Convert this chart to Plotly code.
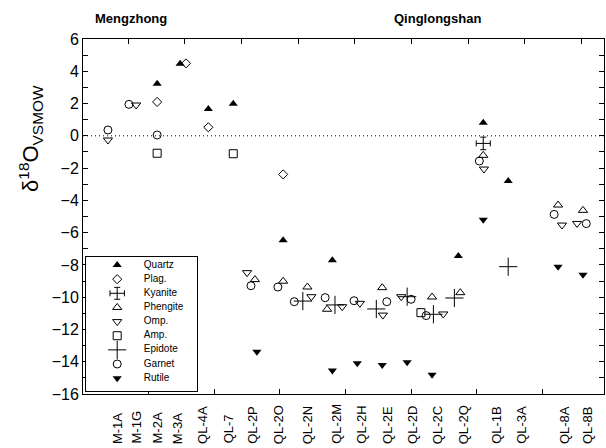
import plotly.graph_objects as go

# ---------------- data ----------------
samples = ["M-1A", "M-1G", "M-2A", "M-3A", "QL-4A", "QL-7", "QL-2P", "QL-2O", "QL-2N",
           "QL-2M", "QL-2H", "QL-2E", "QL-2D", "QL-2C", "QL-2Q", "QL-1B", "QL-3A",
           "QL-8A", "QL-8B"]
sample_x = [0.53, 0.81, 1.13, 1.43, 1.83, 2.21, 2.59, 2.97, 3.42, 3.87, 4.25, 4.65,
            5.03, 5.40, 5.79, 6.31, 6.69, 7.35, 7.70]

quartz_x = [1.13, 1.48, 1.91, 2.29, 3.05, 3.80, 5.72, 6.10, 6.48]
quartz_y = [3.22, 4.47, 1.66, 1.99, -6.47, -7.71, -7.45, 0.81, -2.80]

plag_x = [1.13, 1.57, 1.91, 3.05]
plag_y = [2.10, 4.49, 0.53, -2.39]

kyanite_x = [6.10]
kyanite_y = [-0.47]
kyanite_err_y = [0.39]
kyanite_err_x = [0.107]

phengite_x = [2.62, 3.05, 3.42, 3.72, 4.56, 5.32, 5.75, 6.10, 7.24, 7.62]
phengite_y = [-8.91, -9.01, -9.37, -10.75, -9.41, -9.99, -9.72, -1.21, -4.29, -4.62]

omp_x = [0.38, 0.81, 2.50, 3.48, 3.95, 4.22, 4.57, 4.85, 5.49, 6.11, 7.30, 7.53]
omp_y = [-0.26, 1.91, -8.48, -9.97, -10.59, -10.38, -11.11, -9.97, -11.04, -2.06, -5.53, -5.43]

amp_x = [1.13, 2.29, 5.15]
amp_y = [-1.08, -1.11, -10.96]

epidote_x = [3.35, 3.84, 4.47, 4.94, 5.34, 5.66, 6.48]
epidote_y = [-10.24, -10.48, -10.73, -9.97, -11.06, -10.05, -8.11]

garnet_x = [0.38, 0.70, 1.13, 2.56, 2.97, 3.22, 3.69, 4.13, 4.63, 5.00, 5.23, 6.04, 7.18, 7.67]
garnet_y = [0.36, 1.95, 0.05, -9.29, -9.37, -10.28, -10.03, -10.22, -10.28, -10.13, -11.14,
            -1.56, -4.87, -5.44]

rutile_x = [2.65, 3.80, 4.18, 4.56, 4.94, 5.32, 6.10, 7.24, 7.62]
rutile_y = [-13.38, -14.54, -14.10, -14.20, -14.04, -14.80, -5.20, -8.11, -8.61]

minerals = ["Quartz", "Plag.", "Kyanite", "Phengite", "Omp.", "Amp.", "Epidote", "Garnet", "Rutile"]

y_ticks = [6, 4, 2, 0, -2, -4, -6, -8, -10, -12, -14, -16]
bottom_ticks = [1, 2, 3, 4, 5, 6, 7]
top_ticks = [0.686 + 0.864 * k for k in range(9)]

# ---------------- styles ----------------
FONT = "Liberation Sans, Arial, sans-serif"
BLK = "black"

styles = {
    "Quartz": dict(symbol="triangle-up", size=8, color=BLK, line=dict(width=0, color=BLK)),
    "Plag.": dict(symbol="diamond-open", size=7, color=BLK, line=dict(width=1, color=BLK)),
    "Kyanite": dict(symbol="line-ew", size=1, color=BLK, line=dict(width=1, color=BLK)),
    "Phengite": dict(symbol="triangle-up-open", size=8, color=BLK, line=dict(width=1, color=BLK)),
    "Omp.": dict(symbol="triangle-down-open", size=8, color=BLK, line=dict(width=1, color=BLK)),
    "Amp.": dict(symbol="square-open", size=8, color=BLK, line=dict(width=1, color=BLK)),
    "Epidote": dict(symbol="cross-thin-open", size=13, color=BLK, line=dict(width=1, color=BLK)),
    "Garnet": dict(symbol="circle-open", size=8, color=BLK, line=dict(width=1, color=BLK)),
    "Rutile": dict(symbol="triangle-down", size=8, color=BLK, line=dict(width=0, color=BLK)),
}

series = {
    "Quartz": (quartz_x, quartz_y),
    "Plag.": (plag_x, plag_y),
    "Kyanite": (kyanite_x, kyanite_y),
    "Phengite": (phengite_x, phengite_y),
    "Omp.": (omp_x, omp_y),
    "Amp.": (amp_x, amp_y),
    "Epidote": (epidote_x, epidote_y),
    "Garnet": (garnet_x, garnet_y),
    "Rutile": (rutile_x, rutile_y),
}

fig = go.Figure()

for name in minerals:
    xs, ys = series[name]
    kw = {}
    if name == "Kyanite":
        kw["error_y"] = dict(type="data", array=kyanite_err_y, color=BLK, thickness=1, width=3)
        kw["error_x"] = dict(type="data", array=kyanite_err_x, color=BLK, thickness=1, width=3)
    fig.add_trace(go.Scatter(x=xs, y=ys, mode="markers", name=name, marker=styles[name],
                             showlegend=False, xaxis="x", yaxis="y", **kw))

# ---------- hand-drawn legend (inset axes) ----------
for i, name in enumerate(minerals):
    kw = {}
    if name == "Kyanite":
        kw["error_y"] = dict(type="constant", value=0.42, color=BLK, thickness=1, width=3)
        kw["error_x"] = dict(type="constant", value=0.065, color=BLK, thickness=1, width=3)
    fig.add_trace(go.Scatter(x=[0.28], y=[i], mode="markers", marker=styles[name],
                             showlegend=False, xaxis="x3", yaxis="y3", hoverinfo="skip", **kw))
fig.add_trace(go.Scatter(x=[0.52] * len(minerals), y=list(range(len(minerals))), mode="text",
                         text=minerals, textposition="middle right",
                         textfont=dict(family=FONT, size=10, color=BLK),
                         showlegend=False, xaxis="x3", yaxis="y3", hoverinfo="skip"))

# sample labels (bottom aligned, rotated)
annotations = []
for sx, s in zip(sample_x, samples):
    annotations.append(dict(x=sx, xref="x", y=-0.146, yref="paper", text=s, textangle=-90,
                            showarrow=False, xanchor="center", yanchor="bottom",
                            font=dict(family=FONT, size=13, color=BLK)))

annotations += [
    dict(x=0.092, y=1.059, xref="paper", yref="paper", text="<b>Mengzhong</b>", showarrow=False,
         xanchor="center", yanchor="middle", font=dict(family=FONT, size=13, color=BLK)),
    dict(x=0.681, y=1.059, xref="paper", yref="paper", text="<b>Qinglongshan</b>", showarrow=False,
         xanchor="center", yanchor="middle", font=dict(family=FONT, size=13, color=BLK)),
    dict(x=-0.102, y=0.721, xref="paper", yref="paper",
         text="δ<sup>18</sup>O<sub>VSMOW</sub>", textangle=-90, showarrow=False,
         xanchor="center", yanchor="middle", font=dict(family=FONT, size=22, color=BLK)),
]

XR = [0, 7.94]
fig.update_layout(
    width=606, height=448,
    margin=dict(l=83, r=2, t=39, b=54, pad=0),
    paper_bgcolor="white", plot_bgcolor="white",
    font=dict(family=FONT, color=BLK),
    showlegend=False,
    xaxis=dict(range=XR, tickvals=bottom_ticks, ticks="inside", ticklen=5, tickcolor=BLK,
               showticklabels=False, showline=True, linecolor=BLK, linewidth=1,
               showgrid=False, zeroline=False, mirror=False, fixedrange=True),
    xaxis2=dict(range=XR, overlaying="x", side="top", anchor="y", tickvals=top_ticks,
                ticks="inside", ticklen=5, tickcolor=BLK, showticklabels=False,
                showline=True, linecolor=BLK, linewidth=1, showgrid=False, zeroline=False),
    yaxis=dict(range=[-16, 6], tickvals=y_ticks, ticks="inside", ticklen=5, tickcolor=BLK,
               minor=dict(dtick=1, ticks="inside", ticklen=3, tickcolor=BLK, showgrid=False),
               showline=True, linecolor=BLK, linewidth=1, mirror="allticks",
               showgrid=False, zeroline=False, tickfont=dict(family=FONT, size=16, color=BLK)),
    xaxis3=dict(domain=[0.006, 0.219], range=[0, 1], anchor="y3", showline=True, mirror=True,
                linecolor=BLK, linewidth=1, showgrid=False, zeroline=False,
                showticklabels=False, ticks=""),
    yaxis3=dict(domain=[0.008, 0.386], range=[8.92, -0.57], anchor="x3", showline=True,
                mirror=True, linecolor=BLK, linewidth=1, showgrid=False, zeroline=False,
                showticklabels=False, ticks=""),
    shapes=[dict(type="line", xref="paper", x0=0, x1=1, yref="y", y0=0, y1=0,
                 line=dict(color=BLK, width=1, dash="1px,3px"))],
    annotations=annotations,
)

# add an invisible trace so the top axis is drawn
fig.add_trace(go.Scatter(x=[], y=[], xaxis="x2", yaxis="y", showlegend=False))

fig.write_html("out.html")
